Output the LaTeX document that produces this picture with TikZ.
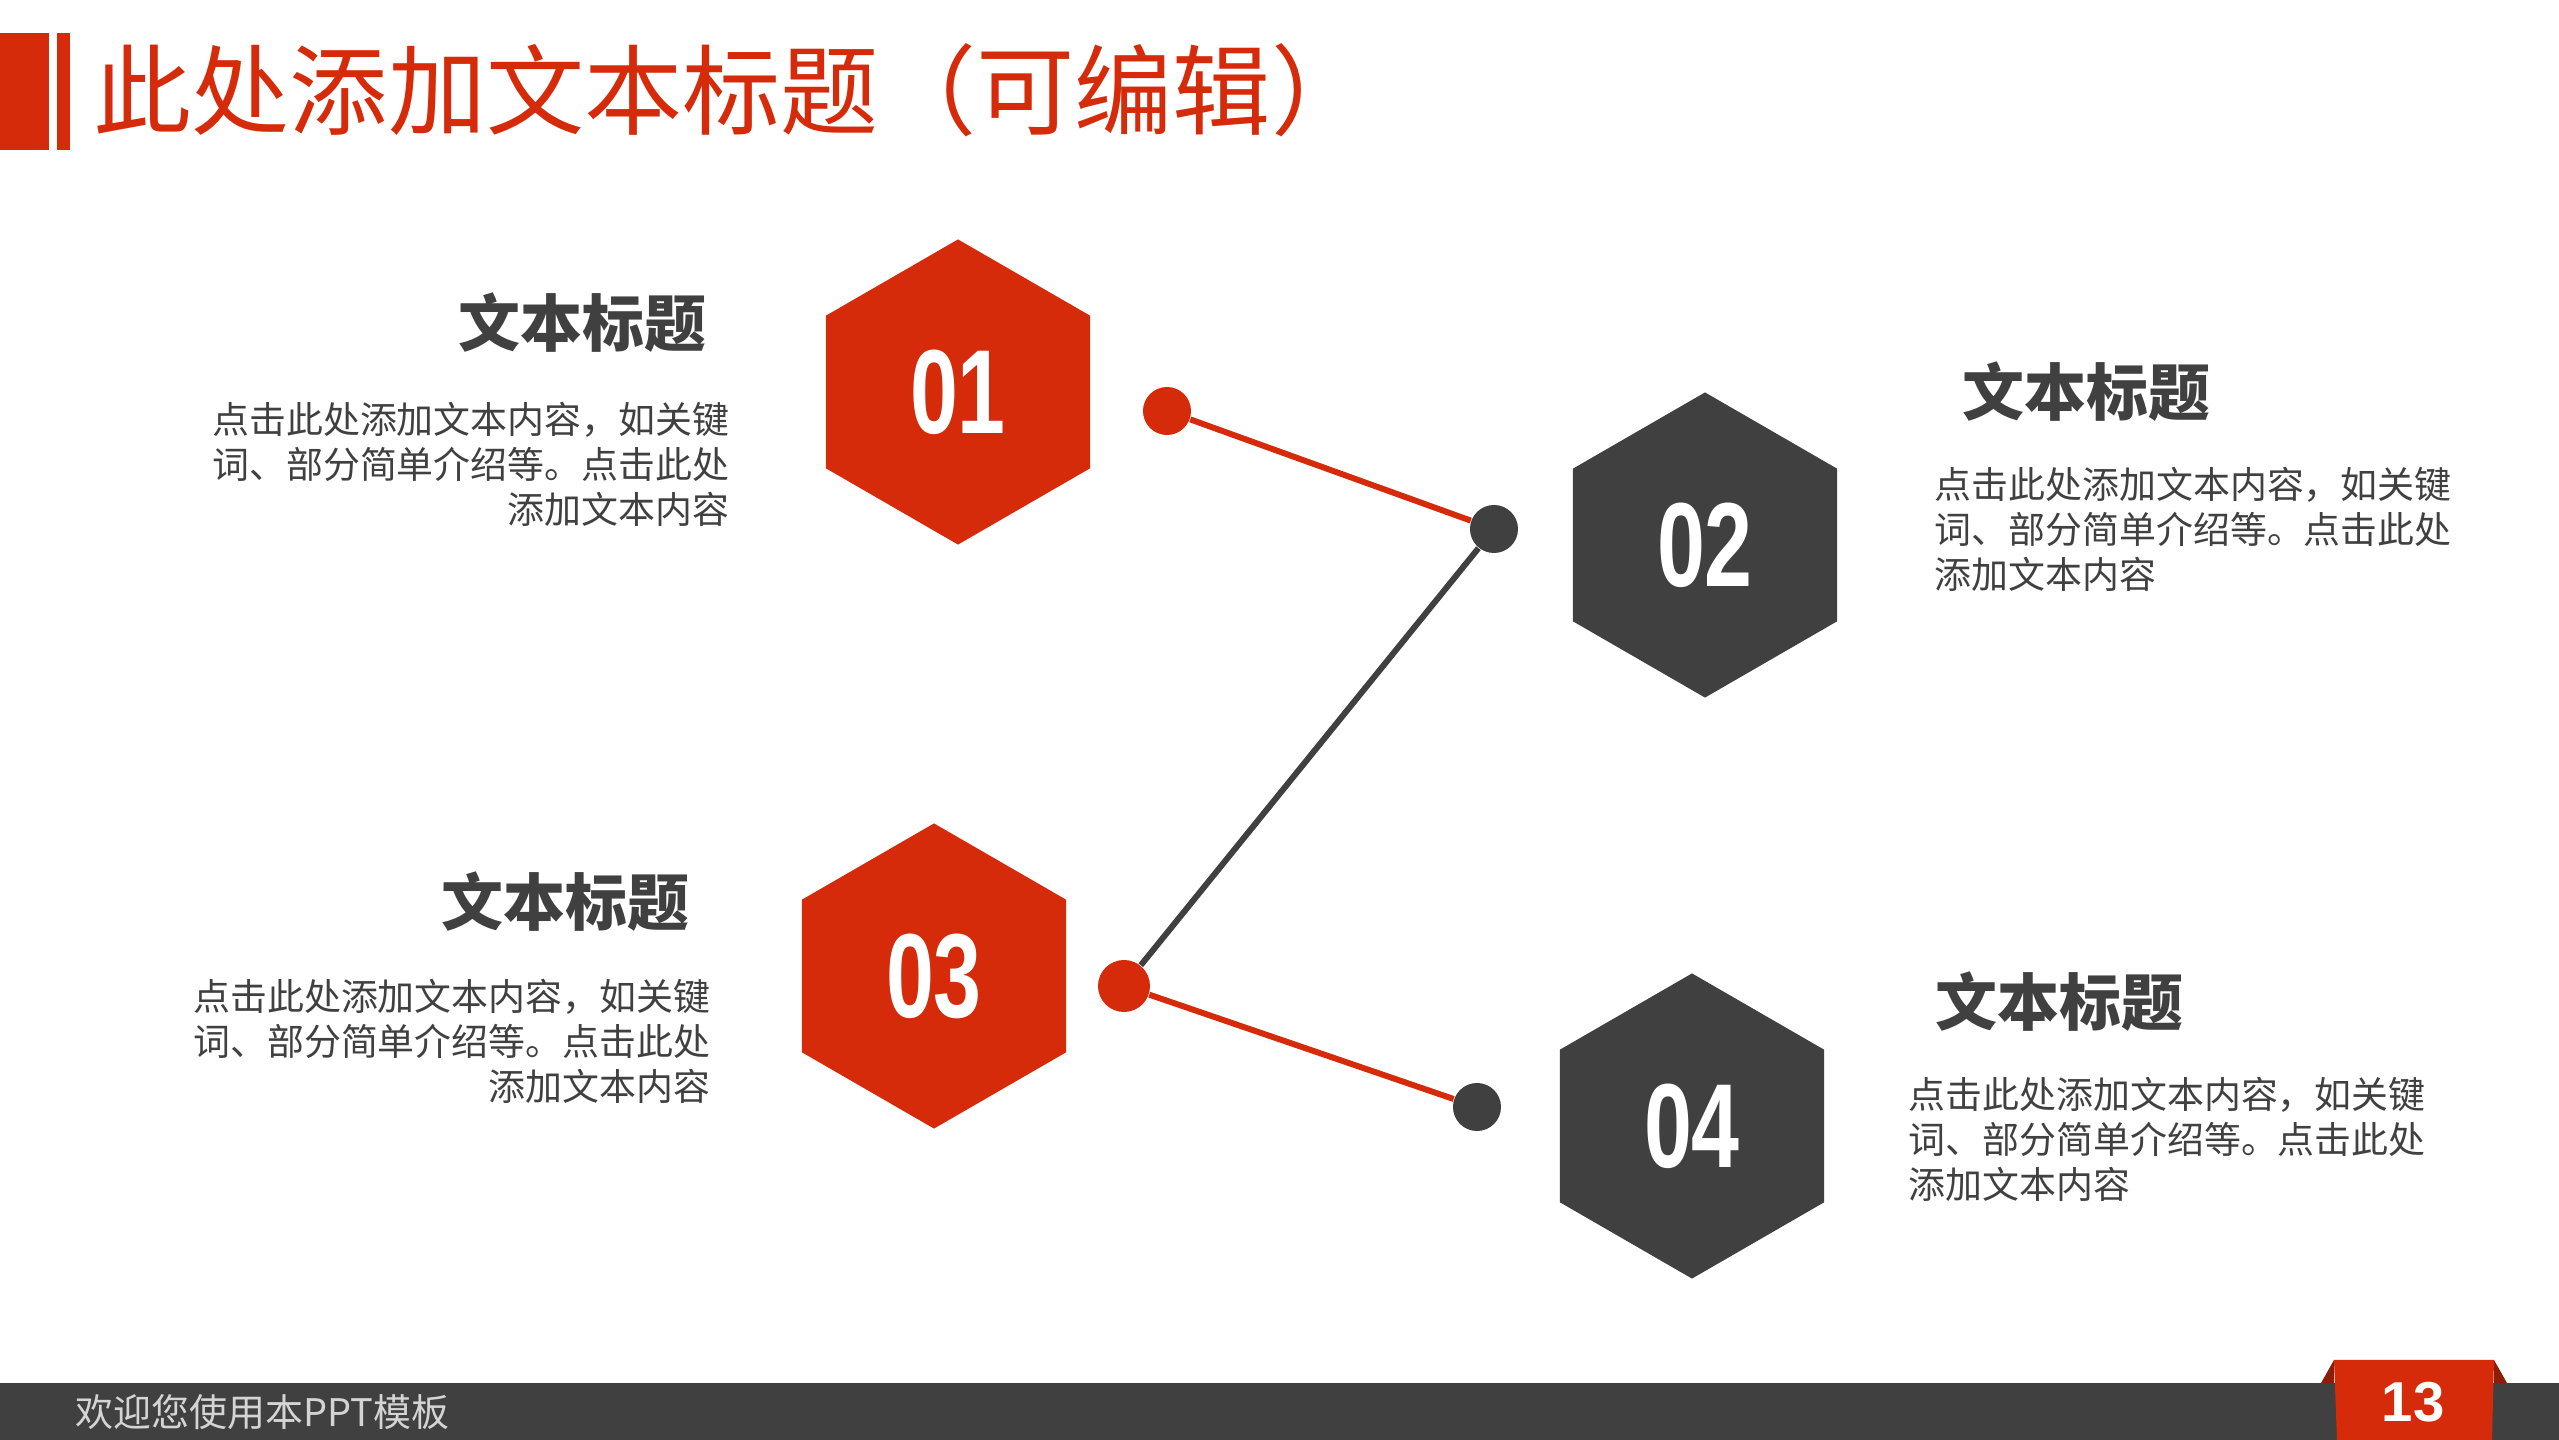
\documentclass[tikz,border=0pt]{standalone}
\usepackage{fontspec}
\setmainfont{Liberation Sans}
\newfontfamily\cjk{Noto Sans CJK SC}
\usetikzlibrary{shapes.geometric}
\definecolor{rojo}{HTML}{D52B0A}
\definecolor{rojoosc}{HTML}{8E1C07}
\definecolor{gris}{HTML}{404040}
\definecolor{grisclaro}{HTML}{D4D4D4}
\tikzset{
  hexa/.style={regular polygon, regular polygon sides=6, shape border rotate=30,
    minimum size=3.05cm, inner sep=0pt, draw=none},
  numero/.style={text=white, font=\fontsize{34}{34}\selectfont\bfseries},
  punto/.style={circle, inner sep=0pt, minimum size=0.48cm},
  enlace/.style={line width=1.7pt},
  titulo/.style={text=gris, inner sep=0pt, font=\cjk\fontsize{17.6}{20}\selectfont\bfseries},
  cuerpo/.style={text=gris, inner sep=0pt, font=\cjk\fontsize{10.5}{12.8}\selectfont}
}
\newcommand{\numhex}[1]{\scalebox{0.72}[1]{#1}}
\begin{document}
\begin{tikzpicture}[x=0.01cm, y=-0.01cm]
  \useasboundingbox (0,0) rectangle (2559,1440);
  % cabecera
  \fill[rojo] (0,33) rectangle (49,150);
  \fill[rojo] (57,33) rectangle (70,150);
  \node[anchor=west, inner sep=0pt, text=rojo, font=\cjk\fontsize{27.9}{30}\selectfont]
    (cab) at (93,90) {此处添加文本标题（可编辑）};
  % pie
  \fill[gris] (0,1383) rectangle (2559,1440);
  \node[anchor=west, inner sep=0pt, text=grisclaro, font=\cjk\fontsize{10.8}{12}\selectfont]
    (pie) at (75,1412) {欢迎您使用本PPT模板};
  \fill[rojoosc] (2334,1360) -- (2321,1383) -- (2334,1383) -- cycle;
  \fill[rojoosc] (2494,1360) -- (2507,1383) -- (2494,1383) -- cycle;
  \fill[rojo] (2334,1360) -- (2494,1360) -- (2492,1440) -- (2337,1440) -- cycle;
  \node[text=white, font=\fontsize{16}{16}\selectfont\bfseries] (pag) at (2413,1402) {13};
  % hexagonos
  \node[hexa, fill=rojo] (h1) at (958,392) {};
  \node[hexa, fill=gris] (h2) at (1705,545) {};
  \node[hexa, fill=rojo] (h3) at (934,976) {};
  \node[hexa, fill=gris] (h4) at (1692,1126) {};
  \node[numero] (n1) at (h1.center) {\numhex{01}};
  \node[numero] (n2) at (h2.center) {\numhex{02}};
  \node[numero] (n3) at (h3.center) {\numhex{03}};
  \node[numero] (n4) at (h4.center) {\numhex{04}};
  % puntos y enlaces
  \node[punto, fill=rojo] (p1) at (1167,411) {};
  \node[punto, fill=gris] (p2) at (1494,529) {};
  \node[punto, fill=rojo, minimum size=0.52cm] (p3) at (1124,986) {};
  \node[punto, fill=gris] (p4) at (1477,1107) {};
  \draw[enlace, rojo] (p1) -- (p2);
  \draw[enlace, gris] (p2) -- (p3);
  \draw[enlace, rojo] (p3) -- (p4);
  % textos
  \node[titulo, anchor=east] (t1) at (707,323) {文本标题};
  \node[cuerpo, anchor=east, align=right] (c1) at (730,464)
    {点击此处添加文本内容，如关键\\词、部分简单介绍等。点击此处\\添加文本内容};
  \node[titulo, anchor=west] (t2) at (1962,392) {文本标题};
  \node[cuerpo, anchor=west, align=left] (c2) at (1934,529)
    {点击此处添加文本内容，如关键\\词、部分简单介绍等。点击此处\\添加文本内容};
  \node[titulo, anchor=east] (t3) at (690,902) {文本标题};
  \node[cuerpo, anchor=east, align=right] (c3) at (711,1041)
    {点击此处添加文本内容，如关键\\词、部分简单介绍等。点击此处\\添加文本内容};
  \node[titulo, anchor=west] (t4) at (1935,1002) {文本标题};
  \node[cuerpo, anchor=west, align=left] (c4) at (1908,1139)
    {点击此处添加文本内容，如关键\\词、部分简单介绍等。点击此处\\添加文本内容};
\end{tikzpicture}
\end{document}
